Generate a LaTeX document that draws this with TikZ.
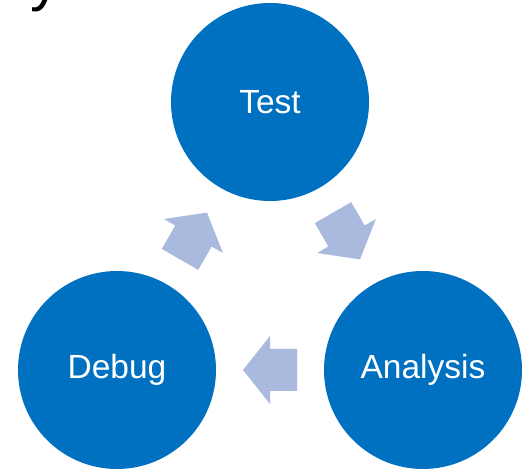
\documentclass[tikz,border=0pt]{standalone}
\usepackage{fontspec}
\setmainfont{Liberation Sans}
\usetikzlibrary{calc}
\definecolor{circblue}{RGB}{0,112,192}
\definecolor{arrowblue}{RGB}{170,186,222}
\tikzset{
  stage/.style={circle, fill=circblue, draw=none, minimum size=198pt, inner sep=0pt,
    text=white, font=\fontsize{33.5}{40}\selectfont},
  blockarrow/.pic={
    \fill[arrowblue] (-27,-21) -- (0,-21) -- (0,-34) -- (27,0) -- (0,34) -- (0,21) -- (-27,21) -- cycle;
  }
}
\begin{document}
\begin{tikzpicture}[x=1pt,y=1pt]
\useasboundingbox (0,0) rectangle (522,471);
\clip (0,0) rectangle (522,471);
\fill[white] (0,0) rectangle (522,471);
\node[anchor=base west, text=black, font=\fontsize{60}{70}\selectfont, inner sep=0pt] (title) at (30,471.5) {y};
\node[stage] (test) at (270,369) {Test};
\node[stage] (debug) at (117,101) {Debug};
\node[stage] (analysis) at (423,101) {Analysis};
\pic[rotate=-60] at ($(test)!0.5!(analysis)$) {blockarrow};
\pic[rotate=180] at ($(analysis)!0.5!(debug)$) {blockarrow};
\pic[rotate=60] at ($(debug)!0.5!(test)$) {blockarrow};
\end{tikzpicture}
\end{document}
